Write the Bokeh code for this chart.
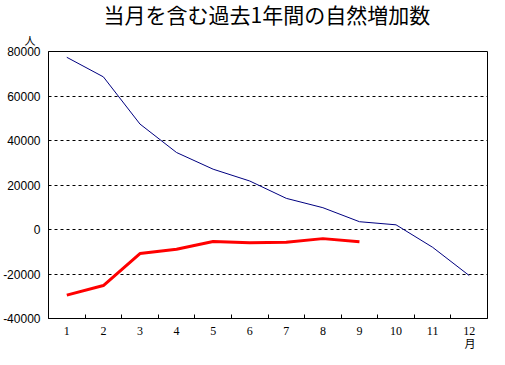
from bokeh.plotting import figure
from bokeh.models import FixedTicker, NumeralTickFormatter, Range1d, Title
from bokeh.embed import file_html
from bokeh.resources import INLINE

# ---- data ----
months = [1, 2, 3, 4, 5, 6, 7, 8, 9, 10, 11, 12]
month_labels = ["1", "2", "3", "4", "5", "6", "7", "8", "9", "10", "11", "12"]
prev_year = [77400, 68600, 47400, 34600, 27100, 21800, 14000, 9800, 3500, 2100, -8000, -20700]
this_months = [1, 2, 3, 4, 5, 6, 7, 8, 9]
this_year = [-29500, -25200, -10800, -8900, -5400, -6000, -5700, -4100, -5500]
y_ticks = [-40000, -20000, 0, 20000, 40000, 60000, 80000]
boundaries = [1.5, 2.5, 3.5, 4.5, 5.5, 6.5, 7.5, 8.5, 9.5, 10.5, 11.5]
title_text = "当月を含む過去1年間の自然増加数"
y_unit = "人"
x_unit = "月"

p = figure(width=489, height=349, output_backend="svg", toolbar_location=None,
           x_range=Range1d(0.5, 12.5), y_range=Range1d(y_ticks[0], y_ticks[-1]),
           min_border_left=48, min_border_right=2, min_border_top=30, min_border_bottom=30,
           title=None)

p.background_fill_color = "white"
p.border_fill_color = "white"
p.outline_line_color = "black"
p.outline_line_width = 1
p.outline_line_alpha = 1.0


def make_title(text, size, align, offset, standoff, valign):
    t = Title(text=text, align=align, offset=offset, vertical_align=valign,
              text_font="Noto Sans CJK JP", text_font_size=size,
              text_font_style="normal", text_color="black")
    try:
        t.standoff = standoff
    except Exception:
        t.standoff = 0
    return t


# titles (closest to the frame first)
p.add_layout(make_title(y_unit, "11px", "left", -24, 4, "top"), "above")
p.add_layout(make_title(title_text, "21px", "left", 55, -3, "top"), "above")

# axes
xa = p.xaxis[0]
xa.ticker = FixedTicker(ticks=months, minor_ticks=boundaries)
xa.major_label_overrides = {m: l for m, l in zip(months, month_labels)}
xa.major_tick_in = 0
xa.major_tick_out = 0
xa.minor_tick_in = 4
xa.minor_tick_out = 0
xa.minor_tick_line_color = "black"
xa.axis_line_color = "black"
xa.major_label_text_font = "Liberation Serif"
xa.major_label_text_font_size = "12px"
xa.major_label_text_color = "black"
xa.major_label_standoff = 8

p.add_layout(make_title(x_unit, "11px", "right", 12, -6, "top"), "below")

ya = p.yaxis[0]
ya.ticker = FixedTicker(ticks=y_ticks)
ya.formatter = NumeralTickFormatter(format="0")
ya.major_tick_in = 0
ya.major_tick_out = 0
ya.minor_tick_line_color = None
ya.axis_line_color = "black"
ya.major_label_text_font = "Liberation Sans"
ya.major_label_text_font_size = "12px"
ya.major_label_text_color = "black"
ya.major_label_standoff = 8

p.xgrid.grid_line_color = None
p.ygrid.ticker = FixedTicker(ticks=y_ticks)
p.ygrid.grid_line_color = "black"
p.ygrid.grid_line_dash = "3 3"
p.ygrid.grid_line_width = 1

# lines
p.line(months, prev_year, line_color="#000080", line_width=1)
p.line(this_months, this_year, line_color="#FF0000", line_width=3)

open("out.html", "w").write(file_html(p, INLINE))
